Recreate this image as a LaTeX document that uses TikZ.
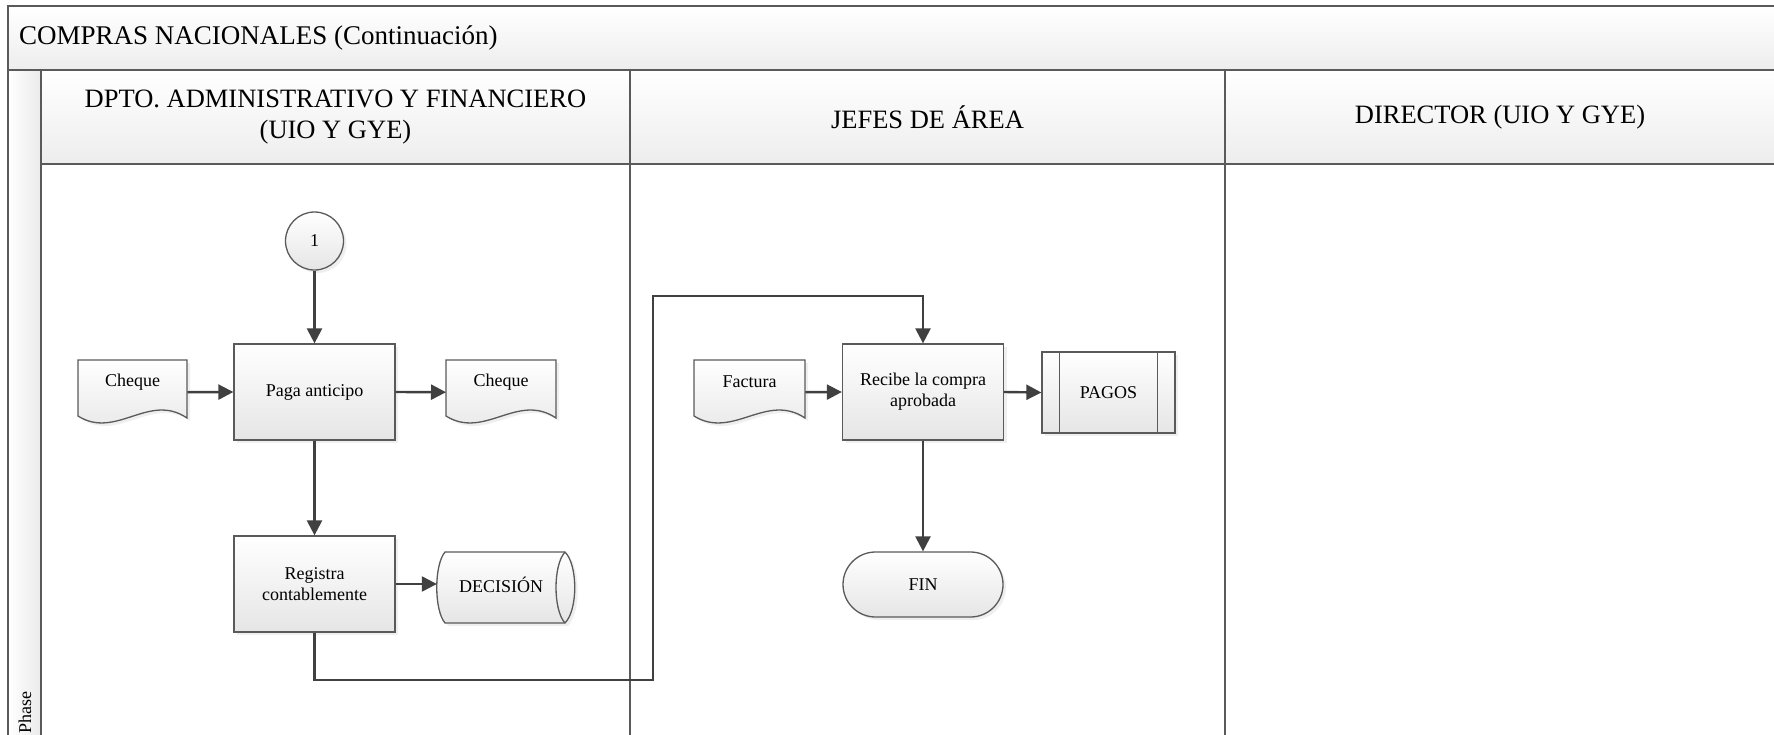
\documentclass[tikz,border=0pt]{standalone}
\usepackage{fontspec}
\setmainfont{Liberation Serif}
\usetikzlibrary{arrows.meta,shadows}
\definecolor{ln}{HTML}{404040}
\definecolor{fr}{HTML}{5A5A5A}
\tikzset{
  frame/.style={draw=fr, line width=2pt},
  hdrfill/.style={top color=white, bottom color=black!7},
  box/.style={draw=fr, line width=1.3pt, top color=white, bottom color=black!10,
    drop shadow={opacity=0.12, shadow xshift=3pt, shadow yshift=-3pt}},
  nodetext/.style={font=\fontsize{18}{21}\selectfont, align=center, inner sep=0pt},
  hdr/.style={font=\fontsize{26.5}{31.5}\selectfont, align=center, inner sep=0pt},
  proc/.style={box, rectangle, minimum width=161, minimum height=96, nodetext},
  flow/.style={draw=ln, line width=2.4pt, -{Triangle[length=15pt,width=15pt]}},
  thinline/.style={draw=fr, line width=1.3pt},
}
\newcommand\docshape[5]{%
  \begin{scope}[shift={(#2,#3)}]
    \path[box] (0,0) -- (#4,0) -- (#4,58) .. controls (0.65*#4,32) and (0.35*#4,80) .. (0,56) -- cycle;
    \node[inner sep=0pt, minimum width=#4, minimum height=64, anchor=north west] (#1) at (0,0) {};
    \node[nodetext] (#1text) at (#4/2,22) {#5};
  \end{scope}}
\begin{document}
\begin{tikzpicture}[x=1pt,y=-1pt]
\clip (0,0) rectangle (1774,734);
\fill[white] (0,0) rectangle (1774,734);
% title bar
\path[frame, hdrfill] (8,6) rectangle (1790,70);
\node[anchor=west, font=\fontsize{27}{32}\selectfont, inner sep=0pt] (title) at (19,38) {COMPRAS NACIONALES (Continuación)};
% phase strip
\path[frame, left color=white, right color=black!8] (8,70) rectangle (41,760);
\node[rotate=90, anchor=east, font=\fontsize{18}{21}\selectfont, inner sep=0pt] (phase) at (25,691) {Phase};
% lane headers
\path[frame, hdrfill] (41,70) rectangle (630,164);
\path[frame, hdrfill] (630,70) rectangle (1225,164);
\path[frame, hdrfill] (1225,70) rectangle (1790,164);
\node[hdr] (h1) at (335.5,117) {DPTO. ADMINISTRATIVO Y FINANCIERO\\(UIO Y GYE)};
\node[hdr] (h2) at (927.5,117) {JEFES DE ÁREA};
\node[hdr] (h3) at (1500,117) {DIRECTOR (UIO Y GYE)};
\draw[frame] (630,164) -- (630,760);
\draw[frame] (1225,164) -- (1225,760);

% lane 1
\node[box, circle, minimum size=58, nodetext] (c1) at (314.5,241) {1};
\node[proc] (paga) at (314.5,392) {Paga anticipo};
\node[proc] (reg) at (314.5,584) {Registra\\contablemente};
\docshape{chL}{78}{360}{109}{Cheque}
\docshape{chR}{446}{360}{110}{Cheque}
% decision (stored data)
\path[box] (445,552) -- (565,552) .. controls (578,565) and (578,610) .. (565,623)
  -- (445,623) .. controls (434,610) and (434,565) .. (445,552) -- cycle;
\draw[thinline] (565,552) .. controls (553,565) and (553,610) .. (565,623);
\node[inner sep=0pt, minimum width=138, minimum height=71] (dec) at (506,587.5) {};
\node[nodetext] (dectext) at (501,585) {DECISIÓN};

% lane 2
\node[proc] (recibe) at (923,392) {Recibe la compra\\aprobada};
\docshape{fac}{694}{360}{111}{Factura}
\node[box, rectangle, minimum width=133, minimum height=81, nodetext] (pagos) at (1108.5,392.5) {PAGOS};
\draw[thinline] ([xshift=18pt]pagos.north west) -- ([xshift=18pt]pagos.south west);
\draw[thinline] ([xshift=-18pt]pagos.north east) -- ([xshift=-18pt]pagos.south east);
\node[box, rectangle, rounded corners=32.5pt, minimum width=160, minimum height=65, nodetext] (fin) at (923,584.5) {FIN};

% connectors
\coordinate (k1) at (653,680);
\coordinate (k2) at (653,296);
\draw[flow] (c1) -- (paga);
\draw[flow] (chL.east) -- (paga.west);
\draw[flow] (paga.east) -- (chR.west);
\draw[flow] (paga) -- (reg);
\draw[flow] (reg.east) -- (reg.east -| dec.west);
\draw[flow] (reg.south) |- (k1) -- (k2) -| (recibe.north);
\draw[flow] (fac.east) -- (recibe.west);
\draw[flow] (recibe.east) -- (pagos.west);
\draw[flow] (recibe) -- (fin);
\end{tikzpicture}
\end{document}
